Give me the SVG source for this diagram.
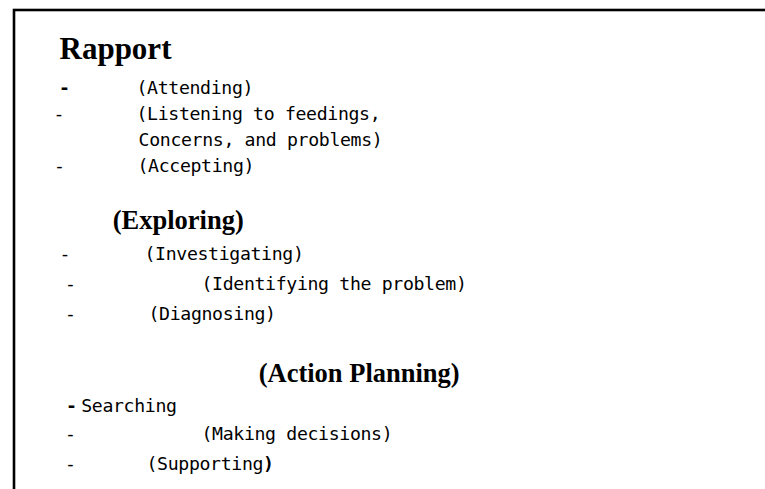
<svg xmlns="http://www.w3.org/2000/svg" width="765" height="489" viewBox="0 0 765 489">
  <style>
    .frame { fill: #ffffff; stroke: #000000; stroke-width: 2.6; }
    .head { font-family: "Liberation Serif", "Times New Roman", serif; font-weight: bold; fill: #000000; }
    .item { font-family: "DejaVu Sans Mono", "Liberation Mono", monospace; font-size: 18.2px; letter-spacing: -0.35px; fill: #000000; }
    .dash { font-family: "DejaVu Sans Mono", "Liberation Mono", monospace; font-size: 18.2px; fill: #000000; text-anchor: middle; }
    .strong { font-weight: bold; }
  </style>
  <rect x="0" y="0" width="765" height="489" fill="#ffffff"/>
  <!-- outer frame: runs off the right and bottom edges -->
  <rect class="frame" x="14" y="10" width="800" height="520"/>

  <g id="rapport">
    <text class="head" x="59.5" y="59" font-size="31">Rapport</text>
    <text class="dash strong" x="64.5" y="94">-</text>
    <text class="item" x="136.5" y="94">(Attending)</text>
    <text class="dash" x="59" y="120">-</text>
    <text class="item" x="136.5" y="120">(Listening to feedings,</text>
    <text class="item" x="138.6" y="146">Concerns, and problems)</text>
    <text class="dash" x="59.5" y="172">-</text>
    <text class="item" x="137.5" y="172">(Accepting)</text>
  </g>

  <g id="exploring">
    <text class="head" x="112.7" y="229" font-size="26.5">(Exploring)</text>
    <text class="dash" x="65" y="260">-</text>
    <text class="item" x="144.5" y="260">(Investigating)</text>
    <text class="dash" x="70.5" y="290">-</text>
    <text class="item" x="201.5" y="290">(Identifying the problem)</text>
    <text class="dash" x="70.5" y="320">-</text>
    <text class="item" x="148.5" y="320">(Diagnosing)</text>
  </g>

  <g id="action-planning">
    <text class="head" x="258.7" y="382" font-size="26.5">(Action Planning)</text>
    <text class="dash strong" x="71.5" y="412">-</text>
    <text class="item" x="81.2" y="412">Searching</text>
    <text class="dash" x="70.5" y="440">-</text>
    <text class="item" x="201.5" y="440">(Making decisions)</text>
    <text class="dash" x="70.5" y="470">-</text>
    <text class="item" x="146.5" y="470">(Supporting<tspan class="strong">)</tspan></text>
  </g>
</svg>
